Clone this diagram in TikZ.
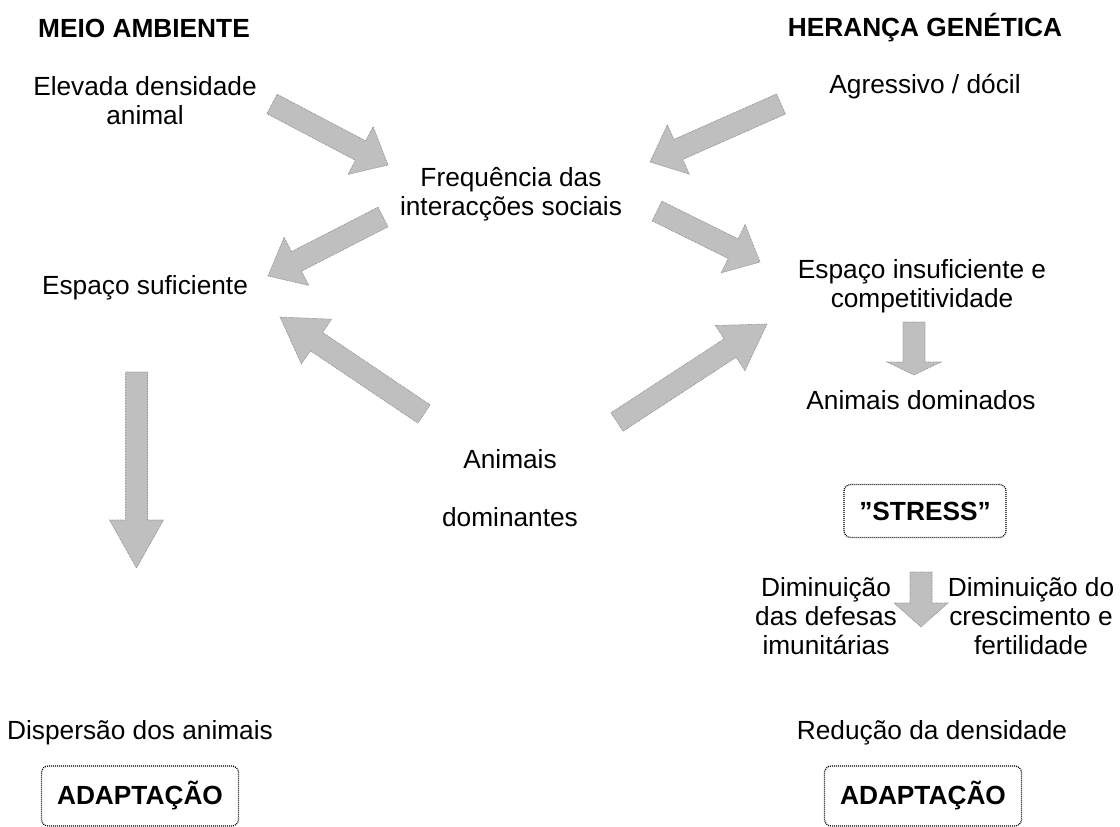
\documentclass[tikz,border=0pt]{standalone}
\usepackage{fontspec}
\setmainfont{Liberation Sans}
\usetikzlibrary{calc}
\tikzset{
  txt/.style={font=\fontsize{19.7pt}{21.75pt}\selectfont, align=center, inner sep=0pt},
  hdr/.style={txt, font=\fontsize{19.7pt}{21.75pt}\selectfont\bfseries},
  barrow/.style={fill=black!25, draw=black!45, line width=0.5pt, dash pattern=on 0.6pt off 0.6pt},
  dbox/.style={txt, font=\fontsize{19.7pt}{21.75pt}\selectfont\bfseries, draw, rounded corners=5pt, line width=0.9pt, dash pattern=on 0.75pt off 0.75pt}
}
\newcommand\blockarr[3]{%
  \path ($(#2)!#3!(#1)$) coordinate (bac);
  \draw[barrow] ($(#1)!8.25pt!90:(#2)$) -- ($(bac)!8.25pt!90:(#2)$) -- ($(bac)!20.25pt!90:(#2)$) -- (#2) -- ($(bac)!20.25pt!-90:(#2)$) -- ($(bac)!8.25pt!-90:(#2)$) -- ($(#1)!8.25pt!-90:(#2)$) -- cycle;
}
\begin{document}
\begin{tikzpicture}[x=0.75pt, y=-0.75pt]
\useasboundingbox (0,0) rectangle (1120,827);

% texts
\node[hdr] (hma) at (144,28) {MEIO AMBIENTE};
\node[hdr] (hhg) at (925,28) {HERANÇA GENÉTICA};
\node[txt] (elev) at (145,101) {Elevada densidade\\animal};
\node[txt] (agr) at (925,87) {Agressivo / dócil};
\node[txt] (freq) at (511,194) {Frequência das\\interacções sociais};
\node[txt] (esuf) at (145,288) {Espaço suficiente};
\node[txt] (eins) at (922,286) {Espaço insuficiente e\\competitividade};
\node[txt] (adom) at (921,400) {Animais dominados};
\node[dbox, minimum width=121.5pt, minimum height=39.75pt] (stress) at (925,511) {”STRESS”};
\node[txt] (adomt) at (510,488) {Animais\\[21.75pt]dominantes};
\node[txt] (dim1) at (826,616) {Diminuição\\das defesas\\imunitárias};
\node[txt] (dim2) at (1031,616) {Diminuição do\\crescimento e\\fertilidade};
\node[txt] (disp) at (140,733) {Dispersão dos animais};
\node[txt] (red) at (932,733) {Redução da densidade};
\node[dbox, minimum width=147.75pt, minimum height=45pt] (ad1) at (140,796) {ADAPTAÇÃO};
\node[dbox, minimum width=147.75pt, minimum height=45pt] (ad2) at (923,796) {ADAPTAÇÃO};

% arrow end points
\coordinate (a1t) at (272,104); \coordinate (a1h) at (388,165);
\coordinate (a2t) at (781,104); \coordinate (a2h) at (650,162);
\coordinate (a3t) at (383,217); \coordinate (a3h) at (268,276);
\coordinate (a4t) at (657,211); \coordinate (a4h) at (760,262);
\coordinate (a5t) at (914,322); \coordinate (a5h) at (914,375);
\coordinate (a6t) at (424,414); \coordinate (a6h) at (280,317);
\coordinate (a7t) at (617,422); \coordinate (a7h) at (767,324);
\coordinate (a8t) at (136.5,372); \coordinate (a8h) at (136.5,568);
\coordinate (a9t) at (921,572); \coordinate (a9h) at (921,627);

\blockarr{a1t}{a1h}{23.25pt}
\blockarr{a2t}{a2h}{23.25pt}
\blockarr{a3t}{a3h}{24pt}
\blockarr{a4t}{a4h}{22.5pt}
\blockarr{a5t}{a5h}{9.75pt}
\blockarr{a6t}{a6h}{33pt}
\blockarr{a7t}{a7h}{33pt}
\blockarr{a8t}{a8h}{36pt}
\blockarr{a9t}{a9h}{18pt}
\end{tikzpicture}
\end{document}
